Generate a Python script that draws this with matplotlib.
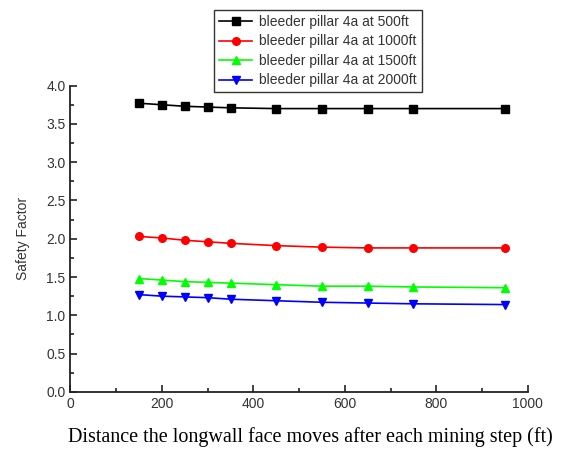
#!/usr/bin/env python3
# coding: utf-8
"""Safety factor of bleeder pillar 4a vs longwall face advance."""

import matplotlib
matplotlib.use("Agg")
import matplotlib.pyplot as plt
from matplotlib.ticker import MultipleLocator, FormatStrFormatter

plt.rcParams["font.family"] = ["Liberation Sans", "DejaVu Sans"]

# distance (ft) at each mining step
distance = [150, 200, 250, 300, 350, 450, 550, 650, 750, 950]

sf_500 = [3.77, 3.75, 3.73, 3.72, 3.71, 3.70, 3.70, 3.70, 3.70, 3.70]
sf_1000 = [2.03, 2.01, 1.98, 1.96, 1.94, 1.91, 1.89, 1.88, 1.88, 1.88]
sf_1500 = [1.48, 1.46, 1.44, 1.43, 1.42, 1.40, 1.38, 1.38, 1.37, 1.36]
sf_2000 = [1.27, 1.25, 1.24, 1.23, 1.21, 1.19, 1.17, 1.16, 1.15, 1.14]

labels = ["bleeder pillar 4a at 500ft", "bleeder pillar 4a at 1000ft",
          "bleeder pillar 4a at 1500ft", "bleeder pillar 4a at 2000ft"]

series = [
    (sf_500, "black", "s"),
    (sf_1000, "red", "o"),
    (sf_1500, "#00ff00", "^"),
    (sf_2000, "blue", "v"),
]

fig = plt.figure(figsize=(5.62, 4.53), dpi=100)
ax = fig.add_axes([0.1254, 0.135, 0.8136, 0.676])

lines = []
for (vals, color, mk), lab in zip(series, labels):
    ln, = ax.plot(distance, vals, color=color, marker=mk, ms=5.5, lw=1.2,
                  label=lab)
    lines.append(ln)

ax.set_xlim(0, 1000)
ax.set_ylim(0, 4.0)
ax.xaxis.set_major_locator(MultipleLocator(200))
ax.xaxis.set_minor_locator(MultipleLocator(100))
ax.yaxis.set_major_locator(MultipleLocator(0.5))
ax.yaxis.set_minor_locator(MultipleLocator(0.25))
ax.yaxis.set_major_formatter(FormatStrFormatter("%.1f"))

for side in ("top", "right"):
    ax.spines[side].set_visible(False)
for side in ("left", "bottom"):
    ax.spines[side].set_linewidth(1.3)
    ax.spines[side].set_color("#222222")

ax.tick_params(which="both", direction="in", colors="#222222", width=1.2,
               labelsize=10, labelcolor="#333333")
ax.tick_params(which="major", length=5)
ax.tick_params(which="minor", length=3)

ax.set_ylabel("Safety Factor", fontsize=10, color="#333333", labelpad=12)

fig.text(0.552, 0.035, "Distance the longwall face moves after each mining step (ft)",
         ha="center", va="center", fontsize=14.5, family="Liberation Serif")

leg = fig.legend(handles=lines, loc="upper left", bbox_to_anchor=(0.381, 0.978),
                 borderaxespad=0, fontsize=10, frameon=True, fancybox=False,
                 borderpad=0.35, labelspacing=0.4, handlelength=2.4,
                 handletextpad=0.5)
leg.get_frame().set_edgecolor("black")
leg.get_frame().set_linewidth(1.0)
for t in leg.get_texts():
    t.set_color("#333333")

fig.savefig("out.png", dpi=100)
